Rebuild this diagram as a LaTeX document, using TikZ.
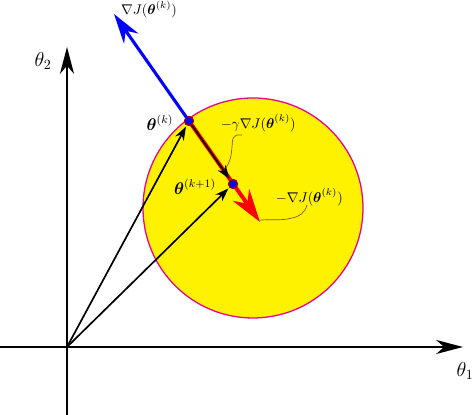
\documentclass[tikz,border=0pt]{standalone}
\usepackage{amsmath}
\usepackage{amssymb}
\usepackage{tikz}
\usetikzlibrary{arrows.meta}
\newcommand{\thb}{{\boldsymbol{\theta}}}
\tikzset{
    axis/.style = {line width=1.4pt, -{Stealth[length=6.7mm,width=3.5mm,inset=2mm]}},
    vec/.style = {line width=1.2pt, -{Stealth[length=3.4mm,width=2.4mm]}},
    pt/.style = {circle, fill=blue, draw=red!60!black, line width=0.8pt, inner sep=0pt, minimum size=2.2mm},
    pin/.style = {draw=brown!70!black, line width=0.5pt},
}

\begin{document}
\begin{tikzpicture}
        \useasboundingbox (-1.675,-1.7) rectangle (10.175,8.675);
        % the region round theta^(k)
        \draw[magenta, fill=yellow, line width=0.9pt] (4.65,3.475) circle (2.75cm);
        % axes
        \coordinate (o) at (0,0);
        \coordinate (xl) at (-1.675,0);
        \coordinate (xr) at (9.9,0);
        \coordinate (yb) at (0,-1.7);
        \coordinate (yt) at (0,7.5);
        \draw[axis] (xl) -- (xr);
        \draw[axis] (yb) -- (yt);
        \node[font=\Large] (t1) at (9.95,-0.6) {$\theta_1$};
        \node[font=\Large] (t2) at (-0.6,7.15) {$\theta_2$};
        % iterates
        \node[pt] (tk) at (3.05,5.65) {};
        \node[pt] (tk1) at (4.15,4.075) {};
        \coordinate (grad) at (1.175,8.325);
        \coordinate (step) at (4.825,3.125);
        \draw[vec, shorten >=1pt] (o) -- (tk);
        \draw[vec, shorten >=1pt] (o) -- (tk1);
        \draw[blue, line width=2.2pt, -{Stealth[length=7.5mm,width=4.4mm,inset=2.4mm]}] (tk.center) -- (grad);
        \draw[red, line width=2.8pt, -{Stealth[length=8.2mm,width=5mm,inset=2.6mm]}] (tk.center) -- (step);
        \draw[vec, shorten >=1pt] (tk) -- (tk1);
        \node[pt] at (tk) {};
        \node[pt] at (tk1) {};
        % labels
        \node (lgrad) at (2.05,8.43) {$\nabla J(\thb^{(k)})$};
        \node[font=\large, anchor=east] (lk) at (2.78,5.6) {$\thb^{(k)}$};
        \node[font=\large, anchor=east] (lk1) at (3.85,4.0) {$\thb^{(k+1)}$};
        \node[anchor=west] (lstep) at (3.72,5.6) {$-\gamma\nabla J(\thb^{(k)})$};
        \node[anchor=west] (lneg) at (5.1,3.75) {$-\nabla J(\thb^{(k)})$};
        % pointers to the arrows
        \coordinate (pa) at (4.375,5.3);
        \coordinate (pb) at (3.97,4.47);
        \coordinate (pc) at (6.0,3.55);
        \coordinate (pd) at (4.825,3.17);
        \draw[pin] (pa) .. controls (4.1,5.32) and (4.15,5.2) .. (4.12,4.95)
                        .. controls (4.1,4.7) and (4.05,4.6) .. (pb);
        \draw[pin] (pc) .. controls (5.95,3.35) and (5.8,3.25) .. (5.6,3.22)
                        .. controls (5.35,3.15) and (5.1,3.2) .. (pd);
    \end{tikzpicture}
\end{document}
